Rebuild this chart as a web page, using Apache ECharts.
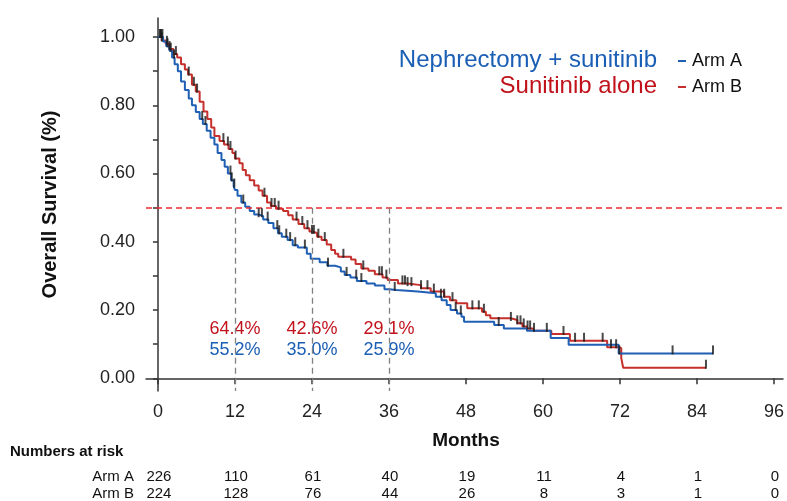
<!DOCTYPE html>
<html><head><meta charset="utf-8">
<script src="https://cdn.jsdelivr.net/npm/echarts@6/dist/echarts.min.js"></script>
<style>html,body{margin:0;padding:0;background:#fff}#c{width:787px;height:501px}</style>
</head><body><div id="c"></div>
<script>
// ---------- data ----------
const armATimes = [0,0.8,1.3,1.8,2.2,2.6,3.1,3.6,4.2,4.8,5.3,5.9,6.5,7.0,7.6,8.2,8.8,9.3,9.9,10.4,10.9,11.4,11.8,12.0,12.4,13.0,13.6,14.3,15.0,15.7,16.4,17.2,18.0,18.7,19.3,20.2,21.0,21.8,23.2,23.8,25.2,26.4,27.6,28.5,29.1,30.0,31.0,32.5,33.8,35.3,36.0,37.2,40.5,43.3,44.2,45.0,45.6,46.6,47.3,47.7,52.4,53.9,57.5,61.2,64.0,71.8];
const armASurv  = [1.0,0.987,0.973,0.96,0.94,0.92,0.90,0.87,0.845,0.82,0.80,0.78,0.76,0.745,0.725,0.705,0.685,0.66,0.64,0.62,0.60,0.58,0.562,0.552,0.535,0.515,0.503,0.49,0.48,0.475,0.465,0.455,0.44,0.425,0.415,0.405,0.39,0.383,0.365,0.35,0.34,0.33,0.325,0.313,0.303,0.295,0.285,0.278,0.272,0.261,0.259,0.254,0.249,0.239,0.229,0.215,0.20,0.19,0.18,0.166,0.156,0.146,0.139,0.118,0.098,0.073];
const armAEnd = 86.5;
const armACensor = [0.3,0.5,0.7,1.5,2.0,2.5,6.9,7.4,11.3,11.5,11.9,13.3,15.7,16.2,17.1,18.6,18.9,20.0,20.6,21.4,22.9,26.5,29.4,30.9,31.7,36.9,44.1,46.4,47.2,53.1,71.9,80.2,86.5];

const armBTimes = [0,0.6,1.2,1.8,2.4,3.0,3.6,4.2,4.7,5.3,5.9,6.5,7.1,7.7,8.3,8.8,9.6,10.3,11.0,11.6,12.0,12.7,13.2,13.7,14.3,15.0,15.7,16.3,17.0,17.6,18.4,19.5,20.3,21.0,21.9,22.8,23.6,24.0,24.8,25.5,26.3,27.0,27.6,28.1,30.1,30.8,31.7,32.8,33.8,35.0,35.8,37.4,38.9,41.0,42.5,44.6,45.5,46.5,48.2,50.5,51.1,51.8,55.0,56.0,56.8,57.5,58.5,61.3,64.2,70.0,71.8,72.2,72.5];
const armBSurv  = [1.0,0.99,0.98,0.965,0.95,0.94,0.92,0.905,0.89,0.86,0.84,0.81,0.782,0.76,0.735,0.71,0.695,0.685,0.672,0.66,0.644,0.63,0.61,0.595,0.58,0.565,0.55,0.535,0.515,0.505,0.497,0.49,0.478,0.465,0.452,0.44,0.43,0.426,0.415,0.405,0.392,0.376,0.365,0.356,0.348,0.335,0.322,0.315,0.305,0.295,0.288,0.278,0.273,0.264,0.254,0.239,0.229,0.22,0.205,0.195,0.185,0.176,0.171,0.161,0.152,0.146,0.139,0.130,0.110,0.091,0.088,0.059,0.031];
const armBEnd = 85.4;
const armBCensor = [0.4,0.6,1.4,1.8,2.8,4.8,5.6,6.1,10.2,10.9,11.3,12.1,16.6,17.7,18.2,18.8,21.6,22.5,23.3,24.0,24.3,25.0,26.0,28.9,32.0,34.5,34.9,35.6,38.1,38.5,38.9,39.5,41.0,42.0,43.0,44.6,45.9,49.0,50.0,50.8,55.0,56.0,56.5,57.0,57.6,58.0,58.6,60.6,63.2,65.0,66.4,69.3,70.6,71.4,85.4];

const landmarkMonths = [12,24,36];
const armAPct = ['55.2%','35.0%','25.9%'];
const armBPct = ['64.4%','42.6%','29.1%'];

const xTickValues = [0,12,24,36,48,60,72,84,96];
const yTickValues = [0,0.1,0.2,0.3,0.4,0.5,0.6,0.7,0.8,0.9,1.0];
const yLabelValues = [0,0.2,0.4,0.6,0.8,1.0];

const riskMonths = [0,12,24,36,48,60,72,84,96];
const armARisk = [226,110,61,40,19,11,4,1,0];
const armBRisk = [224,128,76,44,26,8,3,1,0];

// ---------- helpers ----------
const BLUE = '#1f5fb4', RED = '#c52f2c', TXTBLUE = '#1a5eb5', TXTRED = '#c1121c';
const FONT = '"Liberation Sans", Arial, sans-serif';
function steps(times, surv, end){
  const d = times.map((t,i)=>[t, surv[i]]);
  d.push([end, surv[surv.length-1]]);
  return d;
}
function survAt(times, surv, t){
  let s = surv[0];
  for (let i=0;i<times.length;i++){ if (times[i] <= t) s = surv[i]; }
  return s;
}
const censA = armACensor.map(t=>[t, survAt(armATimes, armASurv, t)]);
const censB = armBCensor.map(t=>[t, survAt(armBTimes, armBSurv, t)]);

const X_MIN = -1.86, X_MAX = 97.4, Y_MIN = -0.0372, Y_MAX = 1.0557;

const chart = echarts.init(document.getElementById('c'));
const option = {
  animation: false,
  backgroundColor: '#fff',
  textStyle: {fontFamily: FONT},
  grid: {left: 146, right: 1, top: 18, bottom: 110},
  xAxis: {
    type: 'value', min: X_MIN, max: X_MAX,
    axisLine: {show: true, lineStyle: {color: '#333', width: 1.5}},
    axisTick: {show: true, length: 6, customValues: xTickValues, lineStyle: {color: '#333', width: 1.5}},
    axisLabel: {customValues: xTickValues, fontSize: 18, color: '#222', margin: 12, fontFamily: FONT},
    splitLine: {show: false}
  },
  yAxis: {
    type: 'value', min: Y_MIN, max: Y_MAX,
    name: 'Overall Survival (%)', nameLocation: 'middle', nameGap: 86,
    nameTextStyle: {fontSize: 20, fontWeight: 'bold', color: '#111', fontFamily: FONT},
    axisLine: {show: true, lineStyle: {color: '#333', width: 1.5}},
    axisTick: {show: true, length: 5, customValues: yTickValues, lineStyle: {color: '#333', width: 1.5}},
    axisLabel: {customValues: yLabelValues, fontSize: 18, color: '#222', margin: 11, fontFamily: FONT,
      formatter: v => v.toFixed(2)},
    splitLine: {show: false}
  },
  series: [
    {
      name: 'Arm B', type: 'line', step: 'end', data: steps(armBTimes, armBSurv, armBEnd),
      showSymbol: false, symbol: 'none', lineStyle: {color: RED, width: 2}, z: 3,
      markLine: {
        silent: true, symbol: 'none', label: {show: false},
        lineStyle: {color: '#ee2a2f', width: 1.5, type: [6, 4]},
        data: [{yAxis: 0.5}]
      }
    },
    {
      name: 'Arm A', type: 'line', step: 'end', data: steps(armATimes, armASurv, armAEnd),
      showSymbol: false, symbol: 'none', lineStyle: {color: BLUE, width: 2}, z: 3,
      markLine: {
        silent: true, symbol: 'none', label: {show: false},
        lineStyle: {color: '#808080', width: 1.3, type: [6, 4]},
        data: landmarkMonths.map(m => [{coord: [m, 0.5]}, {coord: [m, Y_MIN]}])
      }
    },
    {
      type: 'scatter', data: censA, symbol: 'rect', symbolSize: [2, 9], symbolOffset: [0, -3.5],
      itemStyle: {color: '#1c1c1c'}, z: 5, silent: true
    },
    {
      type: 'scatter', data: censB, symbol: 'rect', symbolSize: [2, 9], symbolOffset: [0, -3.5],
      itemStyle: {color: '#1c1c1c'}, z: 5, silent: true
    }
  ]
};
chart.setOption(option);

// ---------- text placed through the axis scales ----------
const px = m => chart.convertToPixel({xAxisIndex: 0}, m);
const py = v => chart.convertToPixel({yAxisIndex: 0}, v);
const g = [];
landmarkMonths.forEach((m, i) => {
  g.push({type: 'text', x: px(m), y: py(0.145), style: {text: armBPct[i], fill: TXTRED, font: '18px ' + FONT, textAlign: 'center', textVerticalAlign: 'middle'}});
  g.push({type: 'text', x: px(m), y: py(0.083), style: {text: armAPct[i], fill: TXTBLUE, font: '18px ' + FONT, textAlign: 'center', textVerticalAlign: 'middle'}});
});
// legend
g.push({type: 'text', x: 657, y: 60, style: {text: 'Nephrectomy + sunitinib', fill: TXTBLUE, font: '24px ' + FONT, textAlign: 'right', textVerticalAlign: 'middle'}});
g.push({type: 'text', x: 657, y: 86, style: {text: 'Sunitinib alone', fill: TXTRED, font: '24px ' + FONT, textAlign: 'right', textVerticalAlign: 'middle'}});
g.push({type: 'rect', shape: {x: 678, y: 60, width: 8, height: 2}, style: {fill: BLUE}});
g.push({type: 'rect', shape: {x: 678, y: 86, width: 8, height: 2}, style: {fill: RED}});
g.push({type: 'text', x: 692, y: 61, style: {text: 'Arm A', fill: '#111', font: '18px ' + FONT, textAlign: 'left', textVerticalAlign: 'middle'}});
g.push({type: 'text', x: 692, y: 87, style: {text: 'Arm B', fill: '#111', font: '18px ' + FONT, textAlign: 'left', textVerticalAlign: 'middle'}});
// x axis title
g.push({type: 'text', x: px(48), y: 441, style: {text: 'Months', fill: '#111', font: 'bold 19px ' + FONT, textAlign: 'center', textVerticalAlign: 'middle'}});
// risk table
g.push({type: 'text', x: 10, y: 452, style: {text: 'Numbers at risk', fill: '#111', font: 'bold 15px ' + FONT, textAlign: 'left', textVerticalAlign: 'middle'}});
g.push({type: 'text', x: 134, y: 477, style: {text: 'Arm A', fill: '#111', font: '15px ' + FONT, textAlign: 'right', textVerticalAlign: 'middle'}});
g.push({type: 'text', x: 134, y: 494, style: {text: 'Arm B', fill: '#111', font: '15px ' + FONT, textAlign: 'right', textVerticalAlign: 'middle'}});
riskMonths.forEach((m, i) => {
  g.push({type: 'text', x: px(m) + 1, y: 477, style: {text: String(armARisk[i]), fill: '#111', font: '15px ' + FONT, textAlign: 'center', textVerticalAlign: 'middle'}});
  g.push({type: 'text', x: px(m) + 1, y: 494, style: {text: String(armBRisk[i]), fill: '#111', font: '15px ' + FONT, textAlign: 'center', textVerticalAlign: 'middle'}});
});
chart.setOption({graphic: g});
</script>
</body></html>
